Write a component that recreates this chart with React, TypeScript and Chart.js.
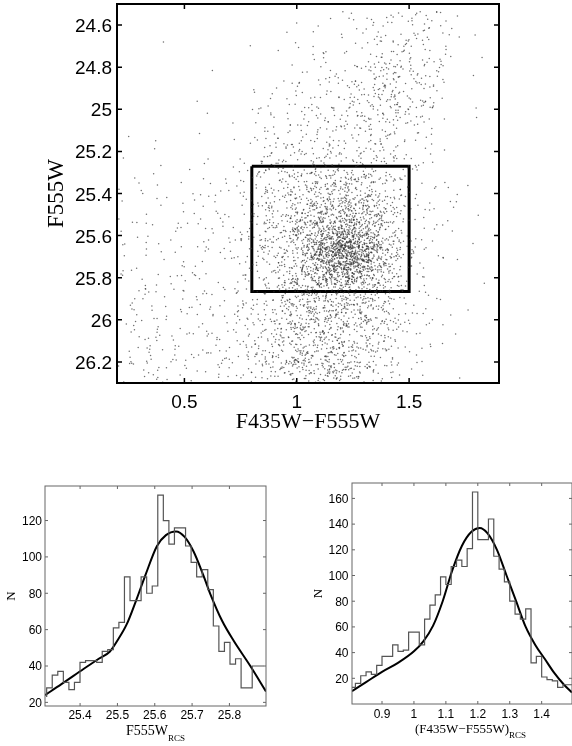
import React, { useEffect, useRef } from 'react';
import { Chart, registerables } from 'chart.js';
Chart.register(...registerables);

// ---------------- Top panel: colour–magnitude diagram ----------------
// Star counts per 0.1 mag (rows, F555W from 24.5 downwards) x 0.1 colour (cols, F435W-F555W from 0.2) cell
const cmdColorStart = 0.2;
const cmdMagStart = 24.5;
const cmdCell = 0.1;
const cmdDensity: number[][] = [
  [0, 0, 0, 0, 0, 0, 0, 0, 0, 1, 4, 5, 6, 9, 6, 1, 0],
  [0, 0, 0, 0, 0, 0, 1, 1, 2, 4, 5, 9, 12, 13, 5, 0, 0],
  [0, 0, 1, 0, 0, 0, 0, 1, 3, 5, 7, 13, 16, 15, 5, 2, 0],
  [0, 0, 0, 0, 1, 0, 1, 3, 4, 7, 12, 20, 23, 17, 5, 0, 0],
  [0, 0, 0, 1, 0, 0, 4, 6, 7, 10, 15, 20, 27, 16, 3, 1, 0],
  [1, 0, 0, 0, 1, 2, 6, 7, 11, 14, 17, 19, 18, 9, 1, 1, 1],
  [2, 1, 0, 0, 1, 3, 8, 11, 14, 16, 16, 14, 11, 4, 2, 0, 0],
  [2, 2, 0, 1, 2, 4, 10, 14, 18, 20, 20, 15, 12, 4, 2, 0, 0],
  [2, 2, 2, 3, 3, 6, 18, 25, 35, 42, 40, 28, 14, 5, 3, 1, 0],
  [3, 3, 3, 3, 4, 6, 20, 30, 45, 60, 60, 40, 16, 5, 3, 1, 0],
  [3, 3, 3, 4, 5, 7, 20, 32, 60, 115, 120, 65, 20, 6, 3, 1, 0],
  [3, 4, 4, 4, 5, 7, 18, 35, 75, 220, 230, 110, 25, 5, 3, 1, 0],
  [4, 4, 4, 5, 6, 7, 16, 30, 65, 160, 190, 80, 22, 4, 2, 0, 0],
  [5, 5, 5, 5, 6, 8, 16, 30, 50, 64, 72, 42, 16, 5, 2, 1, 0],
  [6, 6, 6, 6, 7, 9, 17, 32, 45, 50, 45, 32, 14, 5, 3, 1, 0],
  [7, 7, 6, 6, 7, 9, 18, 33, 45, 48, 42, 28, 12, 4, 2, 1, 0],
  [8, 7, 7, 6, 7, 10, 19, 34, 44, 44, 38, 24, 9, 3, 1, 0, 0],
  [8, 8, 7, 7, 8, 10, 19, 34, 42, 42, 36, 20, 7, 2, 1, 0, 0],
];
const boxColor = [0.8, 1.5];
const boxMag = [25.27, 25.865];
const topXTicks = [0.5, 1, 1.5];
const topXLabels = ['0.5', '1', '1.5'];
const topYTicks = [24.6, 24.8, 25, 25.2, 25.4, 25.6, 25.8, 26, 26.2];
const topYLabels = ['24.6', '24.8', '25', '25.2', '25.4', '25.6', '25.8', '26', '26.2'];

// ---------------- Bottom-left: F555W histogram of the RCS box ----------------
const magBinStart = 25.3105;
const magBinWidth = 0.01488;
const magCounts = [23, 28, 35, 37, 31, 27, 31, 42, 43, 43, 42, 48, 49, 61, 64, 89, 76, 76, 89, 80, 84, 134, 120, 107, 116, 116, 106, 97, 89, 93, 82, 62, 48, 53, 41, 44, 28, 28, 40];
const magFitX = [25.306, 25.35, 25.41, 25.45, 25.48, 25.5, 25.525, 25.55, 25.575, 25.606, 25.63, 25.657, 25.68, 25.704, 25.73, 25.75, 25.78, 25.811, 25.856, 25.898];
const magFitY = [24, 30, 38.5, 44, 48, 54, 63, 76, 90, 106, 112, 114, 111, 103, 90, 79, 65, 54, 40, 26];
const magXTicks = [25.4, 25.5, 25.6, 25.7, 25.8];
const magXLabels = ['25.4', '25.5', '25.6', '25.7', '25.8'];
const magYTicks = [20, 40, 60, 80, 100, 120];
const magYLabels = ['20', '40', '60', '80', '100', '120'];

// ---------------- Bottom-right: colour histogram of the RCS box ----------------
const colBinStart = 0.8;
const colBinWidth = 1 / 60;
const colCounts = [13, 13, 16, 22, 25, 23, 30, 37, 37, 46, 41, 42, 56, 56, 46, 66, 77, 85, 99, 93, 107, 112, 107, 121, 165, 128, 128, 144, 115, 105, 95, 80, 70, 66, 74, 32, 37, 21, 19, 18, 13, 15];
const colFitX = [0.806, 0.85, 0.9, 0.95, 1.0, 1.03, 1.06, 1.09, 1.12, 1.15, 1.18, 1.206, 1.23, 1.26, 1.29, 1.32, 1.35, 1.38, 1.41, 1.44, 1.47, 1.495];
const colFitY = [10, 17, 25, 32, 41, 49, 61, 80, 104, 123, 134, 137, 133, 120, 100, 80, 60, 46, 35, 24, 15, 9];
const colXTicks = [0.9, 1, 1.1, 1.2, 1.3, 1.4];
const colXLabels = ['0.9', '1', '1.1', '1.2', '1.3', '1.4'];
const colYTicks = [20, 40, 60, 80, 100, 120, 140, 160];
const colYLabels = ['20', '40', '60', '80', '100', '120', '140', '160'];

// deterministic scatter of the counted stars inside their cells (tent kernel, hashed offsets)
function hash01(n: number) {
  let h = Math.imul(n ^ 0x9e3779b9, 0x85ebca6b);
  h ^= h >>> 13;
  h = Math.imul(h, 0xc2b2ae35);
  h ^= h >>> 16;
  return (h >>> 0) / 4294967296;
}
function buildStars() {
  const pts: { x: number; y: number }[] = [];
  let n = 0;
  for (let r = 0; r < cmdDensity.length; r++) {
    for (let c = 0; c < cmdDensity[r].length; c++) {
      const cnt = cmdDensity[r][c];
      for (let k = 0; k < cnt; k++) {
        n++;
        const du = hash01(4 * n) + hash01(4 * n + 1) - 1;
        const dv = hash01(4 * n + 2) + hash01(4 * n + 3) - 1;
        pts.push({
          x: cmdColorStart + (c + 0.5 + du) * cmdCell,
          y: cmdMagStart + (r + 0.5 + dv) * cmdCell,
        });
      }
    }
  }
  return pts;
}

function stairs(start: number, width: number, counts: number[]) {
  const pts = counts.map((c, i) => ({ x: start + i * width, y: c }));
  pts.push({ x: start + counts.length * width, y: counts[counts.length - 1] });
  return pts;
}

type Area = { left: number; right: number; top: number; bottom: number };
type TitleSpec = {
  text: string;
  sub?: string;
  font: string;
  subFont?: string;
  subDy?: number;
  rotate?: boolean;
  centerWhole?: boolean;
  pos: (a: Area) => { x: number; y: number };
};

function framePlugin(cfg: {
  lineWidth: number;
  color: string;
  tickLen: number;
  tickWidth: number;
  tickColor: string;
  labelFont: string;
  xLabels: string[];
  yLabels: string[];
  xLabelBase: number;
  yLabelGap: number;
  yLabelShift: number;
  titles: TitleSpec[];
}) {
  return {
    id: 'frameTicks',
    afterDatasetsDraw(chart: any) {
      const { ctx, chartArea: a, scales } = chart;
      const xs = scales.x;
      const ys = scales.y;
      ctx.save();
      ctx.strokeStyle = cfg.tickColor;
      ctx.lineWidth = cfg.tickWidth;
      ctx.beginPath();
      xs.ticks.forEach((t: any) => {
        const px = xs.getPixelForValue(t.value);
        ctx.moveTo(px, a.bottom);
        ctx.lineTo(px, a.bottom - cfg.tickLen);
        ctx.moveTo(px, a.top);
        ctx.lineTo(px, a.top + cfg.tickLen);
      });
      ys.ticks.forEach((t: any) => {
        const py = ys.getPixelForValue(t.value);
        ctx.moveTo(a.left, py);
        ctx.lineTo(a.left + cfg.tickLen, py);
        ctx.moveTo(a.right, py);
        ctx.lineTo(a.right - cfg.tickLen, py);
      });
      ctx.stroke();
      ctx.strokeStyle = cfg.color;
      ctx.lineWidth = cfg.lineWidth;
      ctx.strokeRect(a.left, a.top, a.right - a.left, a.bottom - a.top);

      ctx.fillStyle = '#000';
      ctx.font = cfg.labelFont;
      ctx.textBaseline = 'alphabetic';
      ctx.textAlign = 'center';
      xs.ticks.forEach((t: any, i: number) => {
        ctx.fillText(cfg.xLabels[i], xs.getPixelForValue(t.value), a.bottom + cfg.xLabelBase);
      });
      ctx.textAlign = 'right';
      ys.ticks.forEach((t: any, i: number) => {
        ctx.fillText(cfg.yLabels[i], a.left - cfg.yLabelGap, ys.getPixelForValue(t.value) + cfg.yLabelShift);
      });

      cfg.titles.forEach((t) => {
        const p = t.pos(a);
        ctx.save();
        ctx.translate(p.x, p.y);
        if (t.rotate) ctx.rotate(-Math.PI / 2);
        ctx.font = t.font;
        ctx.textBaseline = 'alphabetic';
        ctx.textAlign = 'left';
        const w1 = ctx.measureText(t.text).width;
        let w2 = 0;
        if (t.sub && t.subFont) {
          ctx.font = t.subFont;
          w2 = ctx.measureText(t.sub).width;
        }
        const x0 = t.centerWhole ? -(w1 + w2) / 2 : -w1 / 2;
        ctx.font = t.font;
        ctx.fillText(t.text, x0, 0);
        if (t.sub && t.subFont) {
          ctx.font = t.subFont;
          ctx.fillText(t.sub, x0 + w1, t.subDy || 0);
        }
        ctx.restore();
      });
      ctx.restore();
    },
  };
}

function axis(min: number, max: number, ticks: number[], size: number, horizontal: boolean, reverse = false) {
  return {
    type: 'linear',
    min,
    max,
    reverse,
    grid: { display: false },
    border: { display: false },
    ticks: { display: false },
    afterBuildTicks: (s: any) => {
      s.ticks = ticks.map((v) => ({ value: v }));
    },
    afterFit: (s: any) => {
      if (horizontal) s.height = size;
      else s.width = size;
    },
  };
}

const SANS = '"Liberation Sans", Arial, sans-serif';
const SERIF = '"Liberation Serif", "Times New Roman", serif';

export default function App() {
  const topRef = useRef<HTMLCanvasElement>(null);
  const blRef = useRef<HTMLCanvasElement>(null);
  const brRef = useRef<HTMLCanvasElement>(null);

  useEffect(() => {
    const charts: Chart[] = [];
    const stars = buildStars();
    const boxPts = [
      { x: boxColor[0], y: boxMag[0] },
      { x: boxColor[1], y: boxMag[0] },
      { x: boxColor[1], y: boxMag[1] },
      { x: boxColor[0], y: boxMag[1] },
      { x: boxColor[0], y: boxMag[0] },
    ];
    charts.push(
      new Chart(topRef.current as HTMLCanvasElement, {
        type: 'scatter',
        data: {
          datasets: [
            {
              data: stars,
              pointRadius: 0.75,
              pointBorderWidth: 0,
              pointBackgroundColor: 'rgba(50,50,50,0.7)',
              pointBorderColor: 'rgba(0,0,0,0)',
            } as any,
            {
              data: boxPts,
              showLine: true,
              borderColor: '#000',
              borderWidth: 3,
              pointRadius: 0,
              fill: false,
            } as any,
          ],
        },
        options: {
          animation: false,
          responsive: false,
          events: [],
          layout: { padding: { left: 0, top: 2, right: 73, bottom: 0 } },
          plugins: { legend: { display: false }, tooltip: { enabled: false } },
          scales: {
            x: axis(0.2, 1.9, topXTicks, 57, true) as any,
            y: axis(24.5, 26.3, topYTicks, 117, false, true) as any,
          },
        },
        plugins: [
          framePlugin({
            lineWidth: 2,
            color: '#000',
            tickLen: 5,
            tickWidth: 1.5,
            tickColor: '#000',
            labelFont: `19px ${SANS}`,
            xLabels: topXLabels,
            yLabels: topYLabels,
            xLabelBase: 25,
            yLabelGap: 5,
            yLabelShift: 7,
            titles: [
              {
                text: 'F435W\u2212F555W',
                font: `22px ${SERIF}`,
                pos: (a) => ({ x: (a.left + a.right) / 2, y: a.bottom + 45 }),
              },
              {
                text: 'F555W',
                font: `23px ${SERIF}`,
                rotate: true,
                pos: (a) => ({ x: a.left - 54, y: (a.top + a.bottom) / 2 }),
              },
            ],
          }) as any,
        ],
      })
    );

    const histOpts = (
      xmin: number,
      xmax: number,
      xt: number[],
      ymin: number,
      ymax: number,
      yt: number[],
      yW: number,
      padR: number,
      padT: number,
      xH: number
    ): any => ({
      animation: false,
      responsive: false,
      events: [],
      layout: { padding: { left: 0, top: padT, right: padR, bottom: 0 } },
      plugins: { legend: { display: false }, tooltip: { enabled: false } },
      scales: {
        x: axis(xmin, xmax, xt, xH, true),
        y: axis(ymin, ymax, yt, yW, false),
      },
    });

    charts.push(
      new Chart(blRef.current as HTMLCanvasElement, {
        type: 'line',
        data: {
          datasets: [
            {
              data: stairs(magBinStart, magBinWidth, magCounts),
              stepped: 'after',
              borderColor: '#555',
              borderWidth: 1.2,
              pointRadius: 0,
              fill: false,
            } as any,
            {
              data: magFitX.map((x, i) => ({ x, y: magFitY[i] })),
              borderColor: '#000',
              borderWidth: 2,
              pointRadius: 0,
              cubicInterpolationMode: 'monotone',
              fill: false,
            } as any,
          ],
        },
        options: histOpts(25.306, 25.898, magXTicks, 18, 139, magYTicks, 45, 24, 46, 40),
        plugins: [
          framePlugin({
            lineWidth: 1,
            color: '#666',
            tickLen: 3,
            tickWidth: 1,
            tickColor: '#666',
            labelFont: `12px ${SANS}`,
            xLabels: magXLabels,
            yLabels: magYLabels,
            xLabelBase: 13,
            yLabelGap: 3,
            yLabelShift: 4.3,
            titles: [
              {
                text: 'F555W',
                sub: 'RCS',
                font: `14px ${SERIF}`,
                subFont: `9px ${SERIF}`,
                subDy: 6,
                centerWhole: true,
                pos: (a) => ({ x: (a.left + a.right) / 2, y: a.bottom + 29 }),
              },
              {
                text: 'N',
                font: `13px ${SERIF}`,
                rotate: true,
                pos: (a) => ({ x: a.left - 30, y: (a.top + a.bottom) / 2 }),
              },
            ],
          }) as any,
        ],
      })
    );

    charts.push(
      new Chart(brRef.current as HTMLCanvasElement, {
        type: 'line',
        data: {
          datasets: [
            {
              data: stairs(colBinStart, colBinWidth, colCounts),
              stepped: 'after',
              borderColor: '#555',
              borderWidth: 1.2,
              pointRadius: 0,
              fill: false,
            } as any,
            {
              data: colFitX.map((x, i) => ({ x, y: colFitY[i] })),
              borderColor: '#000',
              borderWidth: 2,
              pointRadius: 0,
              cubicInterpolationMode: 'monotone',
              fill: false,
            } as any,
          ],
        },
        options: histOpts(0.806, 1.495, colXTicks, 0, 172, colYTicks, 62, 0, 43, 42),
        plugins: [
          framePlugin({
            lineWidth: 1,
            color: '#666',
            tickLen: 3,
            tickWidth: 1,
            tickColor: '#666',
            labelFont: `12px ${SANS}`,
            xLabels: colXLabels,
            yLabels: colYLabels,
            xLabelBase: 14,
            yLabelGap: 3.5,
            yLabelShift: 4.3,
            titles: [
              {
                text: '(F435W\u2212F555W)',
                sub: 'RCS',
                font: `13px ${SERIF}`,
                subFont: `9px ${SERIF}`,
                subDy: 5,
                centerWhole: false,
                pos: (a) => ({ x: (a.left + a.right) / 2, y: a.bottom + 29 }),
              },
              {
                text: 'N',
                font: `13px ${SERIF}`,
                rotate: true,
                pos: (a) => ({ x: a.left - 30, y: (a.top + a.bottom) / 2 }),
              },
            ],
          }) as any,
        ],
      })
    );

    return () => charts.forEach((c) => c.destroy());
  }, []);

  return (
    <div style={{ position: 'fixed', left: 0, top: 0, width: 572, height: 746, background: '#fff' }}>
      <canvas ref={topRef} width={572} height={440} style={{ position: 'absolute', left: 0, top: 0 }} />
      <canvas ref={blRef} width={290} height={306} style={{ position: 'absolute', left: 0, top: 440 }} />
      <canvas ref={brRef} width={282} height={306} style={{ position: 'absolute', left: 290, top: 440 }} />
    </div>
  );
}
